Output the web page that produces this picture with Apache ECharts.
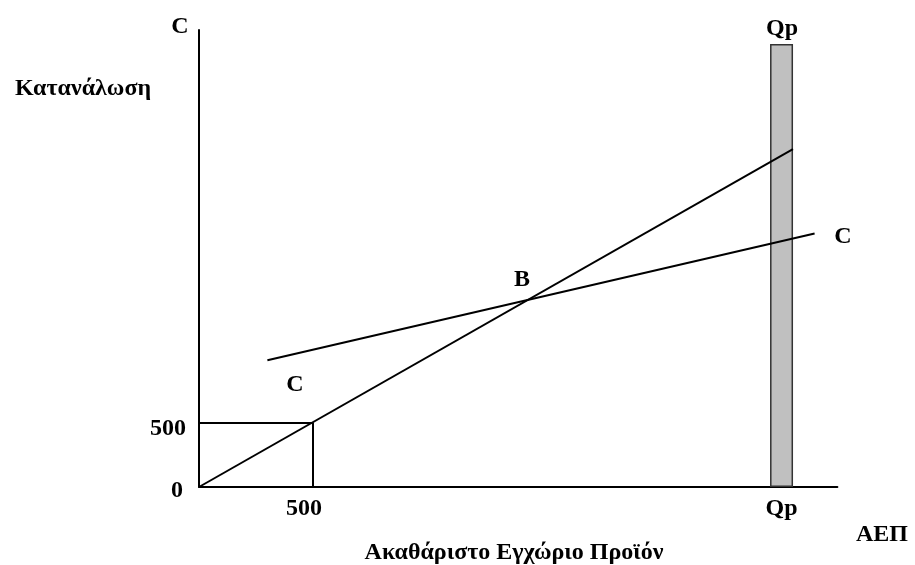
<!DOCTYPE html>
<html>
<head>
<meta charset="utf-8">
<script src="https://cdn.jsdelivr.net/npm/echarts@6/dist/echarts.min.js"></script>
<style>
  html, body { margin: 0; padding: 0; background: #fff; }
  #chart { width: 915px; height: 565px; }
</style>
</head>
<body>
<div id="chart"></div>
<script>
	'use strict';

	// data
	var diagonalLine = [[0, 0], [2605, 2640]];           // 45 degree line
	var consumptionLine = [[300, 990], [2700, 1980]];    // C = a + bY
	var guideLines = [[0, 500], [500, 500], [500, 0]];   // 500 / 500 box
	var potentialBar = [[2555, 3460]];                   // Qp bar
	var xTickValues = [500, 2555];
	var xTickLabels = ['500', 'Qp'];
	var yTickValues = [0, 500];
	var yTickLabels = ['0', '500'];

	var font = '"Liberation Serif", "DejaVu Serif", serif';
	var chart = echarts.init(document.getElementById('chart'));

	var text = function(x, y, str, size){
		return {
			type: 'text', x: x, y: y,
			style: {
				text: str, fill: '#000', font: 'bold ' + size + 'px ' + font,
				align: 'center', verticalAlign: 'middle'
			}
		};
	};
	var labelStyle = function(padding){
		return { fontFamily: font, fontWeight: 'bold', fontSize: 24, color: '#000', padding: padding };
	};

	chart.setOption({
		animation: false,
		grid: { left: 199, top: 30, width: 638.4, height: 457 },
		xAxis: {
			type: 'value', min: 0, max: 2800,
			axisLine: { show: true, onZero: false, lineStyle: { color: '#000', width: 2 } },
			axisTick: { show: false },
			splitLine: { show: false },
			axisLabel: {
				customValues: xTickValues,
				margin: 10,
				formatter: function(v){
					var i = xTickValues.indexOf(v);
					return (i === 0 ? '{l|' : '{c|') + xTickLabels[i] + '}';
				},
				rich: { l: labelStyle([0, 18, 0, 0]), c: labelStyle([0, 0, 0, 0]) }
			}
		},
		yAxis: {
			type: 'value', min: 0, max: 3570,
			axisLine: { show: true, onZero: false, lineStyle: { color: '#000', width: 2 } },
			axisTick: { show: false },
			splitLine: { show: false },
			axisLabel: {
				customValues: yTickValues,
				margin: 13,
				formatter: function(v){
					var i = yTickValues.indexOf(v);
					return (i === 0 ? '{a|' : '{b|') + yTickLabels[i] + '}';
				},
				rich: { a: labelStyle([8, 3, 0, 0]), b: labelStyle([12, 0, 0, 0]) }
			}
		},
		series: [
			{
				type: 'bar', data: potentialBar, barWidth: 23, z: 1,
				itemStyle: { color: '#c0c0c0', borderColor: '#333', borderWidth: 1.5 }
			},
			{
				type: 'line', data: guideLines, symbol: 'none', z: 3,
				lineStyle: { color: '#000', width: 2 }
			},
			{
				type: 'line', data: diagonalLine, symbol: 'none', z: 3,
				lineStyle: { color: '#000', width: 2 }
			},
			{
				type: 'line', data: consumptionLine, symbol: 'none', z: 3,
				lineStyle: { color: '#000', width: 2 }
			}
		],
		graphic: [
			text(180, 27, 'C', 24),
			text(83, 89, 'Κατανάλωση', 24),
			text(782, 29, 'Qp', 24),
			text(843, 237, 'C', 24),
			text(522, 280, 'B', 24),
			text(295, 385, 'C', 24),
			text(882, 535, 'ΑΕΠ', 24),
			text(514, 553, 'Ακαθάριστο Εγχώριο Προϊόν', 24)
		]
	});
</script>
</body>
</html>
